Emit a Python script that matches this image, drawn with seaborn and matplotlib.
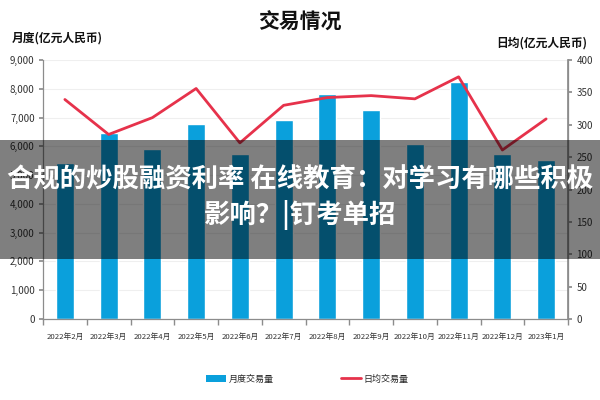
import numpy as np
import pandas as pd
import matplotlib
matplotlib.use("Agg")
import matplotlib.pyplot as plt
import seaborn as sns
from matplotlib.patches import Rectangle
from matplotlib.lines import Line2D
from matplotlib.patches import Patch
from matplotlib import font_manager

months = ["2022年2月", "2022年3月", "2022年4月", "2022年5月", "2022年6月", "2022年7月",
          "2022年8月", "2022年9月", "2022年10月", "2022年11月", "2022年12月", "2023年1月"]
monthly_volume = [5420, 6470, 5900, 6760, 5720, 6910, 7810, 7250, 6080, 8250, 5750, 5530]
daily_volume = [339, 285, 311, 356, 272, 330, 342, 345, 340, 374, 261, 309]

title = "交易情况"
left_label = "月度(亿元人民币)"
right_label = "日均(亿元人民币)"
legend_bar = "月度交易量"
legend_line = "日均交易量"
banner_lines = ["合规的炒股融资利率 在线教育：对学习有哪些积极", "影响？|钉考单招"]

sns.set_theme(style="white")
plt.rcParams['font.family'] = ['Noto Sans CJK SC', 'DejaVu Sans']

installed = {f.name for f in font_manager.fontManager.ttflist}
tick_family = (['Liberation Sans Narrow', 'Noto Sans CJK SC'] if 'Liberation Sans Narrow' in installed
               else ['Noto Sans CJK SC'])
tick_size = 6.8 if 'Liberation Sans Narrow' in installed else 5.6

BLUE = "#0AA0DC"
RED = "#E6324B"
SPINE = "#8C8C8C"

df = pd.DataFrame({"month": months, "monthly": monthly_volume, "daily": daily_volume})

fig = plt.figure(figsize=(6, 4), dpi=100)
ax = fig.add_axes([43/600, 1-319/400, 525/600, 259/400])
sns.barplot(data=df, x="month", y="monthly", color=BLUE, width=0.41, saturation=1, ax=ax, zorder=2)
ax.set_ylim(0, 9000)
ax.set_xlim(-0.5, len(months)-0.5)
ax.set_yticks(np.arange(0, 9001, 1000))
ax.set_yticklabels([f"{v:,}" for v in range(0, 9001, 1000)], fontsize=7, color="#333333")
ax.set_xticks(range(len(months)))
ax.set_xticklabels(months, fontsize=tick_size, color="#333333", family=tick_family)
ax.set_xticks(np.arange(-0.5, len(months), 1), minor=True)
ax.tick_params(axis="x", which="major", length=0, pad=10)
ax.tick_params(axis="x", which="minor", length=4, color=SPINE, direction="out", bottom=True)
ax.tick_params(axis="y", length=3, color=SPINE, direction="out", left=True, pad=3)
ax.set_xlabel("")
ax.set_ylabel("")
ax.yaxis.grid(True, color="#EFEFEF", linewidth=0.8, zorder=0)
ax.set_axisbelow(True)
ax.spines["top"].set_visible(False)
for s in ["left", "bottom", "right"]:
    ax.spines[s].set_color(SPINE)
    ax.spines[s].set_linewidth(0.9)

ax2 = ax.twinx()
sns.lineplot(x=np.arange(len(months)), y=daily_volume, color=RED, linewidth=2, ax=ax2)
ax2.set_ylim(0, 400)
ax2.set_yticks(np.arange(0, 401, 50))
ax2.set_yticklabels([str(v) for v in range(0, 401, 50)], fontsize=7, color="#333333")
ax2.tick_params(axis="y", length=3, color=SPINE, direction="out", right=True, pad=3)
ax2.spines["top"].set_visible(False)
ax2.spines["right"].set_color(SPINE)
ax2.spines["left"].set_visible(False)
ax2.spines["bottom"].set_visible(False)
ax2.set_xlim(-0.5, len(months)-0.5)

fig.text(0.5, 1-22/400, title, ha="center", va="center", fontsize=15, fontweight="bold", color="#111111")
fig.text(12/600, 1-38/400, left_label, ha="left", va="center", fontsize=8.5, fontweight="bold", color="#111111")
fig.text(587/600, 1-43/400, right_label, ha="right", va="center", fontsize=8.5, fontweight="bold", color="#111111")

handles = [Patch(facecolor=BLUE, edgecolor="none"), Line2D([0], [0], color=RED, linewidth=2)]
fig.legend(handles[:1], [legend_bar], loc="center left", bbox_to_anchor=(198/600, 1-379/400),
           frameon=False, fontsize=6.5, handlelength=2.2, handleheight=0.7, handletextpad=0.3)
fig.legend(handles[1:], [legend_line], loc="center left", bbox_to_anchor=(333/600, 1-379/400),
           frameon=False, fontsize=6.5, handlelength=2.2, handletextpad=0.3)

fig.patches.append(Rectangle((0, 1-259/400), 1, 119/400, transform=fig.transFigure,
                             facecolor="black", alpha=0.5, edgecolor="none", zorder=10))
fig.text(0.5, 1-180/400, banner_lines[0], ha="center", va="center", fontsize=19,
         fontweight="bold", color="white", zorder=11)
fig.text(0.5, 1-215/400, banner_lines[1], ha="center", va="center", fontsize=19,
         fontweight="bold", color="white", zorder=11)

fig.savefig("out.png", dpi=100)
